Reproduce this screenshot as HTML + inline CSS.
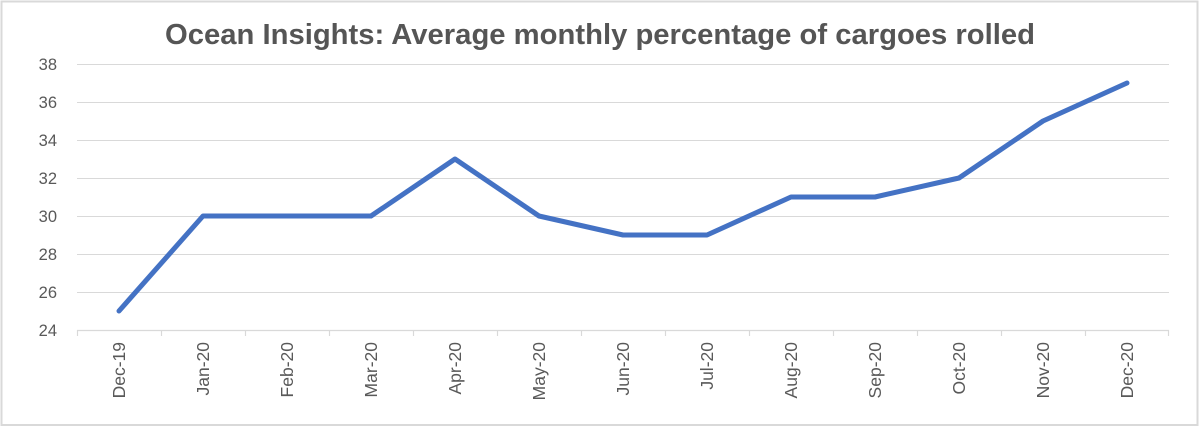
<!DOCTYPE html>
<html>
<head>
<meta charset="utf-8">
<style>
  html, body { margin: 0; padding: 0; background: #ffffff; }
  body { width: 1200px; height: 427px; overflow: hidden; }
  svg { display: block; }
</style>
</head>
<body>
<svg width="1200" height="427" viewBox="0 0 1200 427" xmlns="http://www.w3.org/2000/svg">
  <rect x="0" y="0" width="1200" height="427" fill="#ffffff"/>
  <rect x="1.5" y="1.5" width="1196" height="423.5" fill="none" stroke="#d9d9d9" stroke-width="2"/>

  <!-- Title -->
  <text x="600" y="44" text-anchor="middle" font-family="'Liberation Sans', sans-serif" font-weight="bold" font-size="29" fill="#555555" textLength="870" lengthAdjust="spacingAndGlyphs">Ocean Insights: Average monthly percentage of cargoes rolled</text>

  <!-- Gridlines -->
  <g stroke="#d9d9d9" stroke-width="1">
    <line x1="77" y1="64.5" x2="1169" y2="64.5"/>
    <line x1="77" y1="102.5" x2="1169" y2="102.5"/>
    <line x1="77" y1="140.5" x2="1169" y2="140.5"/>
    <line x1="77" y1="178.5" x2="1169" y2="178.5"/>
    <line x1="77" y1="216.5" x2="1169" y2="216.5"/>
    <line x1="77" y1="254.5" x2="1169" y2="254.5"/>
    <line x1="77" y1="292.5" x2="1169" y2="292.5"/>
  </g>
  <!-- X axis + ticks -->
  <g stroke="#d9d9d9" stroke-width="1.2">
    <line x1="77" y1="330.5" x2="1169" y2="330.5"/>
    <line x1="77.5" y1="330" x2="77.5" y2="336"/>
    <line x1="161.5" y1="330" x2="161.5" y2="336"/>
    <line x1="245.5" y1="330" x2="245.5" y2="336"/>
    <line x1="329.5" y1="330" x2="329.5" y2="336"/>
    <line x1="413.5" y1="330" x2="413.5" y2="336"/>
    <line x1="497.5" y1="330" x2="497.5" y2="336"/>
    <line x1="581.5" y1="330" x2="581.5" y2="336"/>
    <line x1="665.5" y1="330" x2="665.5" y2="336"/>
    <line x1="749.5" y1="330" x2="749.5" y2="336"/>
    <line x1="833.5" y1="330" x2="833.5" y2="336"/>
    <line x1="917.5" y1="330" x2="917.5" y2="336"/>
    <line x1="1001.5" y1="330" x2="1001.5" y2="336"/>
    <line x1="1085.5" y1="330" x2="1085.5" y2="336"/>
    <line x1="1168.5" y1="330" x2="1168.5" y2="336"/>
  </g>

  <!-- Y labels -->
  <g font-family="'Liberation Sans', sans-serif" font-size="16.5" fill="#595959" text-anchor="end">
    <text x="57" y="70">38</text>
    <text x="57" y="108">36</text>
    <text x="57" y="146">34</text>
    <text x="57" y="184">32</text>
    <text x="57" y="222">30</text>
    <text x="57" y="260">28</text>
    <text x="57" y="298">26</text>
    <text x="57" y="336">24</text>
  </g>

  <!-- X labels (rotated) -->
  <g font-family="'Liberation Sans', sans-serif" font-size="17.5" fill="#595959" text-anchor="end">
    <text transform="translate(125,342) rotate(-90)">Dec-19</text>
    <text transform="translate(209,342) rotate(-90)">Jan-20</text>
    <text transform="translate(293,342) rotate(-90)">Feb-20</text>
    <text transform="translate(377,342) rotate(-90)">Mar-20</text>
    <text transform="translate(461,342) rotate(-90)">Apr-20</text>
    <text transform="translate(545,342) rotate(-90)">May-20</text>
    <text transform="translate(629,342) rotate(-90)">Jun-20</text>
    <text transform="translate(713,342) rotate(-90)">Jul-20</text>
    <text transform="translate(797,342) rotate(-90)">Aug-20</text>
    <text transform="translate(881,342) rotate(-90)">Sep-20</text>
    <text transform="translate(965,342) rotate(-90)">Oct-20</text>
    <text transform="translate(1049,342) rotate(-90)">Nov-20</text>
    <text transform="translate(1133,342) rotate(-90)">Dec-20</text>
  </g>

  <!-- Series -->
  <polyline fill="none" stroke="#4472c4" stroke-width="5" stroke-linejoin="round" stroke-linecap="round"
    points="119,311 203,216 287,216 371,216 455,159 539,216 623,235 707,235 791,197 875,197 959,178 1043,121 1127,83"/>
</svg>
</body>
</html>
